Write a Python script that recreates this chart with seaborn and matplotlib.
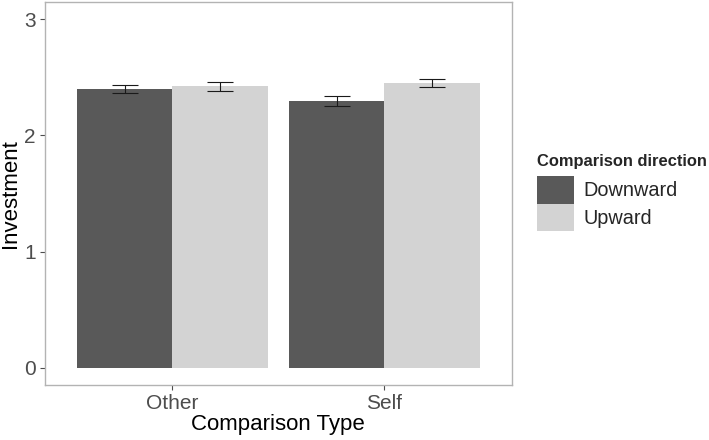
import pandas as pd
import seaborn as sns
import matplotlib.pyplot as plt

# ==============================
# Data
# ==============================
comparison_type = ["Other", "Other", "Self", "Self"]
direction = ["Downward", "Upward", "Downward", "Upward"]
investment = [2.40, 2.425, 2.30, 2.455]
std_err = [0.035, 0.038, 0.042, 0.035]

df = pd.DataFrame({
    "type": comparison_type,
    "direction": direction,
    "investment": investment,
    "se": std_err,
})

sns.set_style("white")
plt.rcParams["font.family"] = ["Liberation Sans", "DejaVu Sans"]

fig = plt.figure(figsize=(7.09, 4.40), dpi=100)
ax = fig.add_axes([0.0635, 0.125, 0.6582, 0.8705])

palette = {"Downward": "#595959", "Upward": "#D3D3D3"}
sns.barplot(data=df, x="type", y="investment", hue="direction",
            palette=palette, width=0.9, errorbar=None, saturation=1,
            edgecolor="none", linewidth=0, ax=ax)

# error bars at the bar centres
# seaborn draws hue level by level: Downward bars first, then Upward
bars = [p for p in ax.patches if p.get_height() > 0][:len(df)]
hue_sorted = df.sort_values(["direction", "type"]).reset_index(drop=True)
for bar, (_, row) in zip(bars, hue_sorted.iterrows()):
    xc = bar.get_x() + bar.get_width() / 2
    ax.errorbar(xc, row["investment"], yerr=row["se"], fmt="none",
                ecolor="#1a1a1a", elinewidth=0.8, capsize=9.7, capthick=0.8)

ax.set_xlim(-0.6, 1.6)
ax.set_ylim(-0.15, 3.15)
ax.set_yticks([0, 1, 2, 3])
ax.set_xlabel("Comparison Type", fontsize=16, color="black", labelpad=1)
ax.set_ylabel("Investment", fontsize=16, color="black", labelpad=2)
ax.tick_params(axis="both", labelsize=15, labelcolor="#4d4d4d",
               color="#4d4d4d", length=3.5, width=0.8, left=True, bottom=True,
               pad=3)
for s in ax.spines.values():
    s.set_color("#b3b3b3")
    s.set_linewidth(1.0)

# legend keys that touch each other, like ggplot
handles, labels = ax.get_legend_handles_labels()
leg = ax.legend(handles, labels, title="Comparison direction",
                loc="upper left", bbox_to_anchor=(1.0536, 0.604),
                frameon=False, fontsize=14.3, handlelength=1.86,
                handleheight=1.788, labelspacing=0, handletextpad=0.5,
                borderaxespad=0, borderpad=0, alignment="left",
                title_fontproperties={"weight": "bold", "size": 11.9})
leg._legend_box.sep = 5  # gap between title and keys

fig.savefig("out.png", dpi=100)
